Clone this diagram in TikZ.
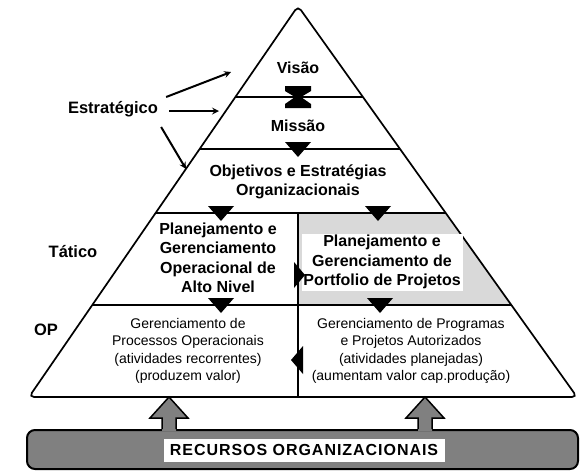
\documentclass[tikz,border=0pt]{standalone}
\usepackage{fontspec}
\setmainfont{Liberation Sans}
\newfontfamily\recfont[LetterSpace=6]{Liberation Sans}
\usetikzlibrary{positioning}

\definecolor{cinzaclaro}{HTML}{D9D9D9}
\definecolor{cinzaescuro}{HTML}{808080}

\tikzset{
  rotulo/.style={font=\fontsize{16}{19.5}\selectfont\bfseries, align=center, inner sep=1pt},
  rotuloop/.style={font=\fontsize{14}{17.3}\selectfont, align=center, inner sep=1pt},
  nivel/.style={font=\fontsize{16.5}{18}\selectfont\bfseries, inner sep=1pt},
  seta/.style={->, >=stealth, line width=2pt},
  linha/.style={line width=1.4pt},
  setabaixo/.pic={\fill (-13,-7) -- (13,-7) -- (0,8) -- cycle;},
  ampulheta/.pic={\fill (-13,-11) -- (13,-11) -- (13,-6) -- (3,0) -- (13,7) -- (13,11) -- (-13,11) -- (-13,7) -- (-3,0) -- (-13,-6) -- cycle;},
  setadir/.pic={\fill (-4,-13) -- (-4,13) -- (7,0) -- cycle;},
  setaesq/.pic={\fill (5,-14) -- (5,14) -- (-7,0) -- cycle;},
  blocoseta/.pic={
    \fill[cinzaescuro] (-7,34) -- (-7,21) -- (-19,21) -- (0,0) -- (19,21) -- (7,21) -- (7,34) -- cycle;
    \draw[line width=1.5pt, line join=miter] (-7,32) -- (-7,21) -- (-19,21) -- (0,0) -- (19,21) -- (7,21) -- (7,32);}
}

\begin{document}
\begin{tikzpicture}[x=1pt,y=-1pt]
\useasboundingbox (0,0) rectangle (585,475);

% piramide
\begin{scope}
  \clip[rounded corners=5pt] (29,397) -- (298,6) -- (577,397) -- cycle;
  \fill[cinzaclaro] (298,213) rectangle (600,305);
  \draw[linha] (0,97) -- (600,97);
  \draw[linha] (0,149) -- (600,149);
  \draw[linha] (0,213) -- (600,213);
  \draw[linha] (0,305) -- (600,305);
  \draw[linha] (298,213) -- (298,400);
\end{scope}
\draw[line width=1.7pt, rounded corners=5pt] (29,397) -- (298,6) -- (577,397) -- cycle;

% textos dos niveis
\node[rotulo] (visao) at (298,68) {Visão};
\node[rotulo] (missao) at (298,126) {Missão};
\node[rotulo] (objetivos) at (298,182) {Objetivos e Estratégias\\Organizacionais};
\node[rotulo] (altonivel) at (218,258) {Planejamento e\\Gerenciamento\\Operacional de\\Alto Nivel};
\node[rotulo, fill=white, minimum width=161pt, minimum height=57pt] (portfolio) at (382,262) {Planejamento e\\Gerenciamento de\\Portfolio de Projetos};
\node[rotuloop] (processos) at (188,351) {Gerenciamento de\\Processos Operacionais\\(atividades recorrentes)\\(produzem valor)};
\node[rotuloop] (programas) at (411,351) {Gerenciamento de Programas\\e Projetos Autorizados\\(atividades planejadas)\\(aumentam valor cap.produção)};

% triangulos
\pic at (298,97) {ampulheta};
\pic at (298,149) {setabaixo};
\pic at (221,213) {setabaixo};
\pic at (378,213) {setabaixo};
\pic at (221,305) {setabaixo};
\pic at (380,305) {setabaixo};
\pic at (298,275) {setadir};
\pic at (298,360) {setaesq};

% rotulos laterais
\node[nivel] (estrategico) at (113,109) {Estratégico};
\node[nivel] (tatico) at (73,252) {Tático};
\node[nivel] (op) at (46,330) {OP};

\coordinate (pvisao) at (231,72);
\coordinate (pmissao) at (219,111);
\coordinate (pobjetivos) at (186,169);
\draw[seta] ([shift={(7,-12)}]estrategico.east) -- (pvisao);
\draw[seta] ([shift={(10,2)}]estrategico.east) -- (pmissao);
\draw[seta] ([shift={(2,18)}]estrategico.east) -- (pobjetivos);

% recursos
\node[draw, line width=2pt, fill=cinzaescuro, rounded corners=8pt, minimum width=551pt, minimum height=39pt] (recursos) at (302.5,449.5) {};
\node[fill=white, inner sep=2pt, minimum width=281pt, minimum height=23pt, font=\recfont\fontsize{16}{18}\selectfont\bfseries] (rotrecursos) at (304,450) {RECURSOS ORGANIZACIONAIS};
\pic at (169,397) {blocoseta};
\pic at (425,397) {blocoseta};
\end{tikzpicture}
\end{document}
